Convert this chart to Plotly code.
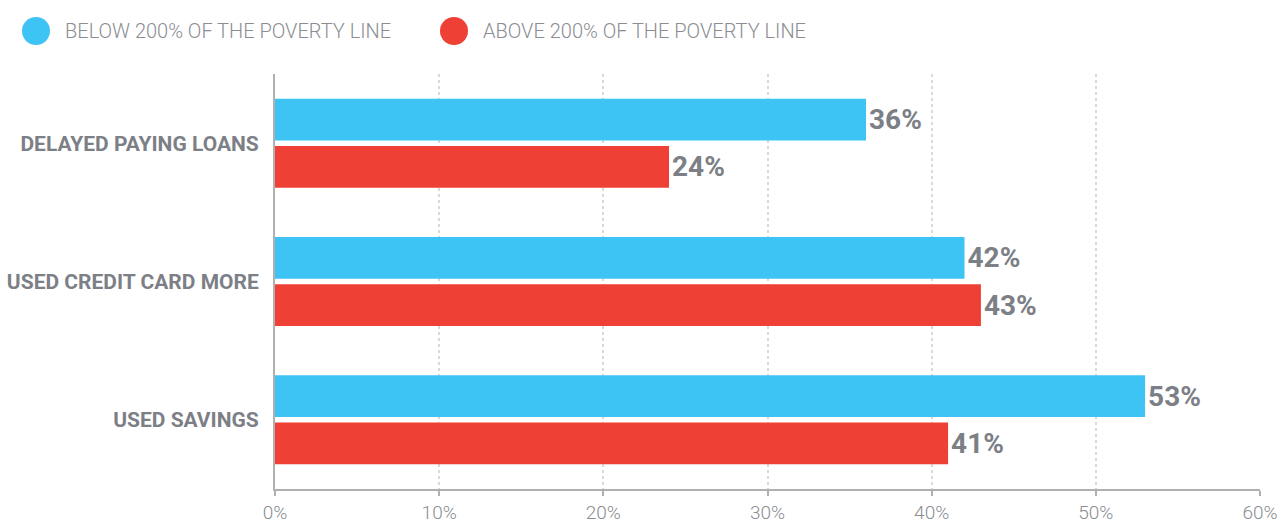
import plotly.graph_objects as go

# Survey responses, share of households (%)
categories = ["DELAYED PAYING LOANS", "USED CREDIT CARD MORE", "USED SAVINGS"]
below_200 = [36, 42, 53]
above_200 = [24, 43, 41]
series_names = ["BELOW 200% OF THE POVERTY LINE", "ABOVE 200% OF THE POVERTY LINE"]
x_ticks = [0, 10, 20, 30, 40, 50, 60]

BLUE = "#3ec3f5"
RED = "#ee4035"
GREY_TEXT = "#7c8086"
GREY_LIGHT = "#8a8d92"
FONT = "Roboto, Inter, sans-serif"

W, H = 1282, 524
M_L, M_R, M_T, M_B = 275, 22, 74, 35
PW, PH = W - M_L - M_R, H - M_T - M_B

fig = go.Figure()
for name, vals, color in [(series_names[0], below_200, BLUE), (series_names[1], above_200, RED)]:
    fig.add_trace(go.Bar(
        name=name,
        y=categories,
        x=vals,
        orientation="h",
        marker=dict(color=color, line=dict(width=0)),
        texttemplate="%{x}%",
        textposition="outside",
        textfont=dict(family=FONT, size=28, color=GREY_TEXT, weight="bold"),
        cliponaxis=False,
        showlegend=False,
        hoverinfo="skip",
    ))

# Legend: filled circles with labels above the plot
legend_items = [(series_names[0], BLUE, 36), (series_names[1], RED, 454)]
shapes = []
annotations = []
for text, color, cx in legend_items:
    ax = (cx - M_L) / PW
    ay = (H - M_B - 31) / PH
    shapes.append(dict(
        type="circle", xref="paper", yref="paper",
        xsizemode="pixel", ysizemode="pixel",
        xanchor=ax, yanchor=ay,
        x0=-14, x1=14, y0=-14, y1=14,
        fillcolor=color, line=dict(width=0), layer="above",
    ))
    annotations.append(dict(
        text=text, xref="paper", yref="paper",
        x=(cx + 27 - M_L) / PW, y=ay,
        xanchor="left", yanchor="middle", showarrow=False,
        font=dict(family=FONT, size=20, color=GREY_LIGHT, weight=300),
    ))

fig.update_layout(
    width=W, height=H,
    margin=dict(l=M_L, r=M_R, t=M_T, b=M_B, pad=0),
    paper_bgcolor="white", plot_bgcolor="white",
    barmode="group", bargap=0.317, bargroupgap=0.116,
    shapes=shapes, annotations=annotations,
    showlegend=False,
)
fig.update_xaxes(
    range=[0, 60], tickvals=x_ticks, ticktext=[f"{v}%" for v in x_ticks],
    showgrid=True, gridcolor="#d9d9d9", griddash="dot", gridwidth=2,
    showline=True, linecolor="#b0b0b0", linewidth=2,
    ticks="outside", ticklen=5, tickcolor="#b0b0b0", tickwidth=2,
    tickfont=dict(family=FONT, size=19, color=GREY_LIGHT, weight=300),
    zeroline=False, fixedrange=True, automargin=False,
)
fig.update_yaxes(
    autorange="reversed",
    showline=True, linecolor="#b0b0b0", linewidth=2,
    showgrid=False, ticks="", ticklabelstandoff=10,
    tickfont=dict(family=FONT, size=21, color=GREY_TEXT, weight="bold"),
    fixedrange=True, automargin=False,
)

fig.write_html("out.html", config={"displayModeBar": False})
